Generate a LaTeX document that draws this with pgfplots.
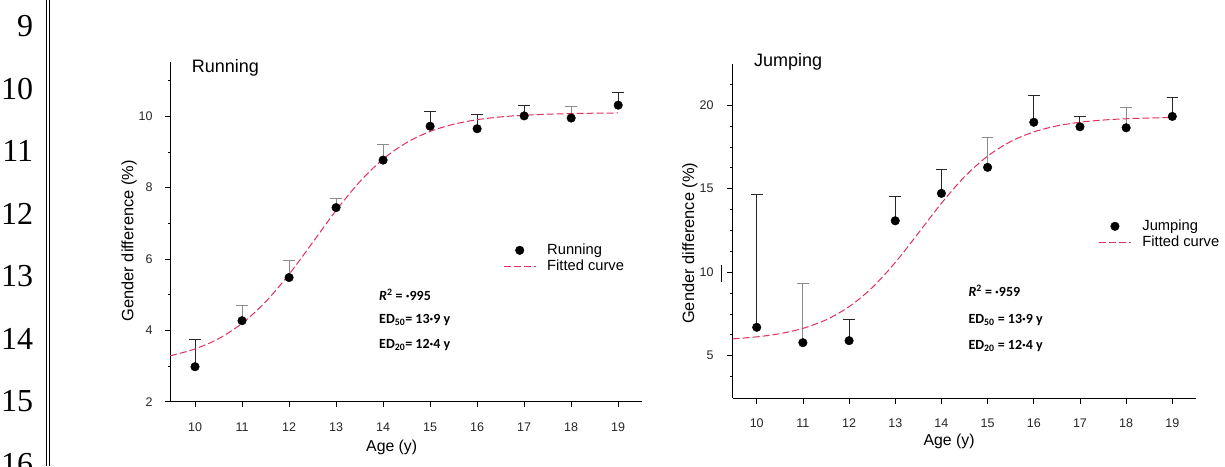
\documentclass[border=0pt]{standalone}
\usepackage{fontspec}
\setmainfont{Liberation Sans}
\newfontfamily\calib{Carlito}
\newfontfamily\serifnum{Liberation Serif}
\usepackage{pgfplots}
\pgfplotsset{compat=1.18}
\definecolor{fitc}{HTML}{E3305F}
\definecolor{errgray}{gray}{0.55}
\definecolor{errdark}{gray}{0.15}

\pgfplotsset{
  mystyle/.style={
    scale only axis,
    axis x line*=bottom, axis y line*=left,
    tick align=outside,
    major tick length=5.5pt, minor tick length=2.5pt,
    axis line style={line width=0.9pt, black},
    tick style={line width=0.8pt, black},
    /pgf/number format/assume math mode=true,
    tick label style={font=\fontsize{12.5}{14}\selectfont, text=black!85},
    xticklabel style={anchor=base, inner sep=0pt, yshift=-24pt},
    xtick={10,...,19},
    xlabel style={font=\fontsize{15.8}{18}\selectfont},
    ylabel style={font=\fontsize{16.4}{18}\selectfont},
    legend cell align=left,
    legend image code/.code={\draw[mark repeat=2,mark phase=2,##1] plot coordinates {(0pt,0pt) (16pt,0pt) (32pt,0pt)};},
    legend style={draw=none, fill=none, inner sep=0pt, anchor=west,
      font=\fontsize{14.7}{16}\selectfont, column sep=11pt, row sep=2.4pt,
      nodes={inner sep=0pt, text height=11pt, text depth=3pt}},
  },
  errg/.style={only marks, mark=none, forget plot,
    error bars/.cd, y dir=plus, y explicit,
    error bar style={line width=1pt, errgray},
    error mark options={rotate=90, mark size=5.8pt, line width=1pt, errgray}},
  errd/.style={only marks, mark=none, forget plot,
    error bars/.cd, y dir=plus, y explicit,
    error bar style={line width=1pt, errdark},
    error mark options={rotate=90, mark size=5.8pt, line width=1pt, errdark}},
  dots/.style={only marks, mark=*, mark size=4.3pt, black, mark options={fill=black}},
  fit/.style={no marks, smooth, color=fitc, line width=1pt, dash pattern=on 7pt off 3pt},
}

\begin{document}
\begin{tikzpicture}
\useasboundingbox (0pt,0pt) rectangle (1225pt,466pt);

% line numbers and double rule
\foreach \n/\y in {9/429.3,10/366.8,11/304.3,12/241.8,13/179.3,14/116.8,15/54.3,16/-8.2}{
  \node[anchor=base east, inner sep=0pt, font=\serifnum\fontsize{32}{36}\selectfont] at (33.3pt,\y pt) {\n};
}
\draw[line width=0.9pt] (46.7pt,0pt) -- (46.7pt,466pt);
\draw[line width=0.9pt] (49.5pt,0pt) -- (49.5pt,466pt);

% ---------------- Running ----------------
\begin{axis}[mystyle,
  at={(170pt,64.3pt)}, anchor=south west,
  width=471.7pt, height=339.7pt,
  xmin=9.468, xmax=19.5, ymin=2, ymax=11.52,
  ytick={2,4,6,8,10}, minor ytick={3,5,7,9,11},
  yticklabel style={anchor=east, inner sep=0pt, xshift=-11.7pt},
  xlabel={Age (y)}, ylabel={Gender difference (\%)},
  xlabel style={at={(axis description cs:0.47,-0.147)}, anchor=base},
  ylabel style={at={(axis description cs:-0.0869,0.4737)}, anchor=center},
  legend style={at={(axis description cs:0.706,0.4215)}},
]
\addplot[errg] coordinates {(11,4.27) +- (0,0.43) (12,5.48) +- (0,0.47) (13,7.44) +- (0,0.25) (14,8.77) +- (0,0.45) (18,9.95) +- (0,0.31)};
\addplot[errd] coordinates {(10,2.98) +- (0,0.75) (15,9.72) +- (0,0.42) (16,9.65) +- (0,0.39) (17,10.01) +- (0,0.29) (19,10.31) +- (0,0.35)};
\addplot[dots] coordinates {(10,2.98) (11,4.27) (12,5.48) (13,7.44) (14,8.77) (15,9.72) (16,9.65) (17,10.01) (18,9.95) (19,10.31)};
\addlegendentry{Running}
\addplot[fit] coordinates {(9.47,3.285) (10,3.478) (10.5,3.765) (11,4.195) (11.5,4.797) (12,5.570) (12.5,6.458) (13,7.359) (13.5,8.160) (14,8.800) (14.5,9.261) (15,9.574) (15.5,9.776) (16,9.903) (16.5,9.981) (17,10.029) (17.5,10.057) (18,10.074) (18.5,10.085) (19,10.091)};
\addlegendentry{Fitted curve}
\end{axis}

% ---------------- Jumping ----------------
\begin{axis}[mystyle,
  at={(732.7pt,67.7pt)}, anchor=south west,
  width=463.3pt, height=334.3pt,
  xmin=9.48, xmax=19.513, ymin=2.448, ymax=22.47,
  ytick={5,10,15,20}, minor ytick={3.75,6.25,7.5,8.75,11.25,12.5,13.75,16.25,17.5,18.75,21.25},
  yticklabel style={anchor=east, inner sep=0pt, xshift=-13.4pt},
  xlabel={Age (y)}, ylabel={Gender difference (\%)},
  xlabel style={at={(axis description cs:0.467,-0.1397)}, anchor=base},
  ylabel style={at={(axis description cs:-0.0922,0.4637)}, anchor=center},
  legend style={at={(axis description cs:0.789,0.490)}},
]
\addplot[errg] coordinates {(11,5.78) +- (0,3.55) (15,16.28) +- (0,1.76) (18,18.65) +- (0,1.22)};
\addplot[errd] coordinates {(10,6.70) +- (0,7.96) (12,5.90) +- (0,1.24) (13,13.08) +- (0,1.46) (14,14.72) +- (0,1.46) (16,18.98) +- (0,1.62) (17,18.71) +- (0,0.60) (19,19.33) +- (0,1.16)};
\addplot[dots] coordinates {(10,6.70) (11,5.78) (12,5.90) (13,13.08) (14,14.72) (15,16.28) (16,18.98) (17,18.71) (18,18.65) (19,19.33)};
\addlegendentry{Jumping}
\addplot[fit] coordinates {(9.48,6.009) (10,6.127) (10.5,6.319) (11,6.636) (11.5,7.147) (12,7.935) (12.5,9.075) (13,10.579) (13.5,12.338) (14,14.132) (14.5,15.718) (15,16.954) (15.5,17.828) (16,18.402) (16.5,18.763) (17,18.982) (17.5,19.113) (18,19.191) (18.5,19.236) (19,19.263)};
\addlegendentry{Fitted curve}
\end{axis}

% titles
\node[anchor=base west, inner sep=0pt, font=\fontsize{18}{20}\selectfont] at (191.7pt,393pt) {Running};
\node[anchor=base west, inner sep=0pt, font=\fontsize{18}{20}\selectfont] at (754pt,399pt) {Jumping};

% stray tick mark next to "10" in the right panel
\draw[line width=0.9pt] (721.7pt,184.3pt) -- (721.7pt,201pt);

% annotations
\begin{scope}[every node/.style={anchor=base west, inner sep=0pt, font=\calib\bfseries\fontsize{14}{16}\selectfont}]
\node at (379pt,165.3pt) {\textit{R}\textsuperscript{2} = ·995};
\node at (379pt,142.7pt) {ED\textsubscript{50}= 13·9 y};
\node at (379pt,117.7pt) {ED\textsubscript{20}= 12·4 y};
\node at (968.3pt,169.3pt) {\textit{R}\textsuperscript{2} = ·959};
\node at (968.3pt,142.7pt) {ED\textsubscript{50} = 13·9 y};
\node at (968.3pt,117pt) {ED\textsubscript{20} = 12·4 y};
\end{scope}
\end{tikzpicture}
\end{document}
